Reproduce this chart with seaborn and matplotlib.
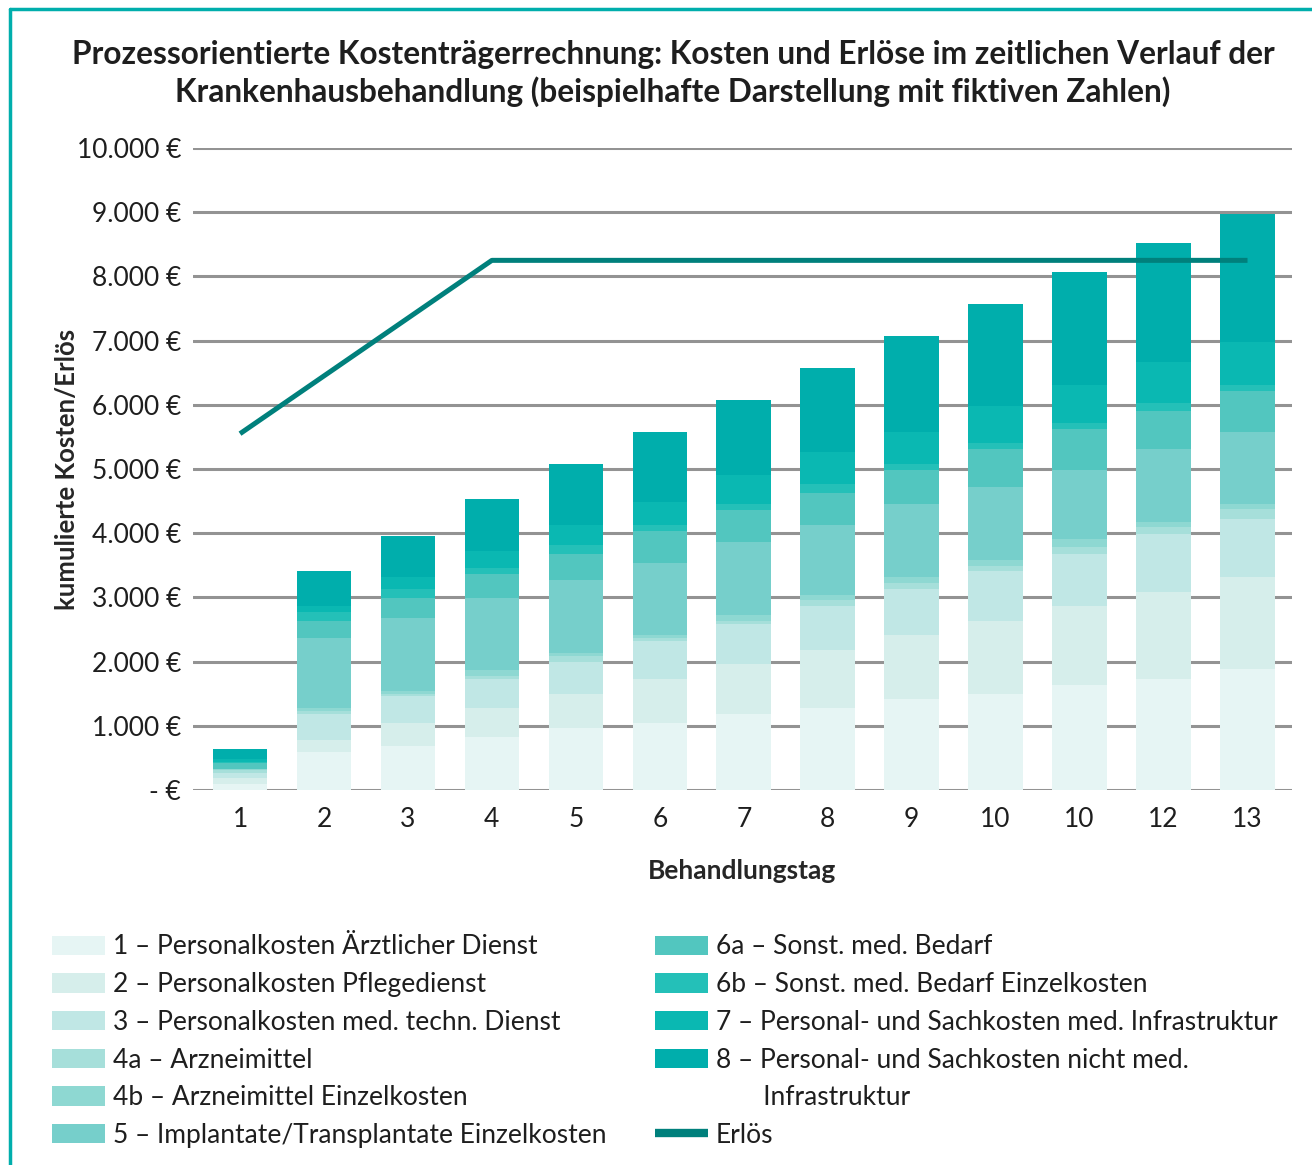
import matplotlib
matplotlib.use("Agg")
import matplotlib.pyplot as plt
from matplotlib.lines import Line2D
from matplotlib.patches import Patch
from matplotlib.ticker import FuncFormatter
import numpy as np
import pandas as pd
import seaborn as sns

# --- data ------------------------------------------------------------
day_labels = ["1", "2", "3", "4", "5", "6", "7", "8", "9", "10", "10", "12", "13"]

seg_names = [
    "1 – Personalkosten Ärztlicher Dienst",
    "2 – Personalkosten Pflegedienst",
    "3 – Personalkosten med. techn. Dienst",
    "4a – Arzneimittel",
    "4b – Arzneimittel Einzelkosten",
    "5 – Implantate/Transplantate Einzelkosten",
    "6a – Sonst. med. Bedarf",
    "6b – Sonst. med. Bedarf Einzelkosten",
    "7 – Personal- und Sachkosten med. Infrastruktur",
    "8 – Personal- und Sachkosten nicht med.",
]
seg_colors = ["#e6f5f4", "#d6eeeb", "#c0e7e5", "#a6dfda", "#8ed8d2",
              "#76cfcb", "#52c6bf", "#24c0b8", "#0ab8b2", "#00aeac"]

aerztl = [90, 590, 690, 830, 970, 1040, 1180, 1280, 1420, 1500, 1640, 1730, 1880]
pflege = [90, 190, 350, 450, 530, 690, 780, 900, 990, 1130, 1230, 1360, 1440]
medtech = [90, 400, 420, 450, 490, 590, 630, 690, 720, 780, 810, 900, 900]
arznei_4a = [40, 50, 40, 50, 100, 50, 40, 90, 90, 80, 100, 100, 150]
arznei_4b = [20, 50, 40, 90, 40, 40, 100, 80, 100, 90, 130, 90, 90]
implantate = [0, 1090, 1140, 1120, 1140, 1130, 1140, 1090, 1130, 1140, 1080, 1130, 1120]
bedarf_6a = [90, 260, 310, 370, 410, 490, 490, 500, 530, 590, 640, 600, 640]
bedarf_6b = [20, 140, 140, 100, 140, 100, 100, 140, 100, 90, 90, 120, 90]
infra_med = [50, 100, 190, 260, 310, 360, 450, 490, 500, 580, 590, 640, 670]
infra_nicht = [150, 540, 640, 810, 950, 1090, 1160, 1310, 1490, 1590, 1760, 1850, 1990]

erloes = [5550, 6450, 7350, 8250, 8250, 8250, 8250, 8250, 8250, 8250, 8250, 8250, 8250]

segments = [aerztl, pflege, medtech, arznei_4a, arznei_4b, implantate,
            bedarf_6a, bedarf_6b, infra_med, infra_nicht]

LINE_COLOR = "#00807c"
GRID_COLOR = "#939393"
TEXT_COLOR = "#1e1e1e"
FS = 19

sns.set_theme(style="white")
plt.rcParams["font.family"] = ["Lato", "DejaVu Sans"]
plt.rcParams["text.color"] = TEXT_COLOR

fig = plt.figure(figsize=(13.12, 11.65), dpi=100)
ax = fig.add_axes([193 / 1312, 1 - 790 / 1165, (1292 - 193) / 1312, (790 - 148) / 1165])

pos = np.arange(len(day_labels))
bottom = np.zeros(len(pos))
for vals, col in zip(segments, seg_colors):
    df = pd.DataFrame({"tag": pos, "kosten": vals})
    sns.barplot(data=df, x="tag", y="kosten", color=col, width=0.65,
                bottom=bottom.copy(), errorbar=None, saturation=1,
                linewidth=0, ax=ax, zorder=2)
    bottom += np.array(vals)

sns.lineplot(x=pos, y=erloes, color=LINE_COLOR, linewidth=3.6, ax=ax,
             zorder=5, solid_capstyle="butt")

ax.set_xlim(-0.56, 12.53)
ax.set_ylim(0, 10000)
ax.set_yticks(np.arange(0, 10001, 1000))
ax.yaxis.set_major_formatter(FuncFormatter(
    lambda v, _: "- €" if v == 0 else f"{int(v):,} €".replace(",", ".")))
ax.set_xticks(pos)
ax.set_xticklabels(day_labels)
ax.tick_params(axis="both", length=0, labelsize=FS, colors=TEXT_COLOR)
ax.tick_params(axis="y", pad=8.5)
ax.tick_params(axis="x", pad=12)
ax.yaxis.grid(True, color=GRID_COLOR, linewidth=2.2, zorder=0)
ax.xaxis.grid(False)
ax.set_axisbelow(True)
for s in ax.spines.values():
    s.set_visible(False)

ax.set_xlabel("Behandlungstag", fontsize=FS, fontweight="bold", labelpad=20)
ax.set_ylabel("kumulierte Kosten/Erlös", fontsize=18.5, fontweight="bold")
ax.yaxis.set_label_coords(-0.104, 0.5)

fig.text(0.513, 1 - 73.5 / 1165,
         "Prozessorientierte Kostenträgerrechnung: Kosten und Erlöse im zeitlichen Verlauf der\n"
         "Krankenhausbehandlung (beispielhafte Darstellung mit fiktiven Zahlen)",
         ha="center", va="center", fontsize=22.8, fontweight="bold",
         linespacing=1.27, color=TEXT_COLOR)

# legend: two columns, the blank row carries the wrapped label of item 8
handles = [Patch(facecolor=c, edgecolor="none") for c in seg_colors]
labels = list(seg_names)
handles.insert(10, Patch(facecolor="none", edgecolor="none"))
labels.insert(10, "       Infrastruktur")
handles.append(Line2D([0], [0], color=LINE_COLOR, linewidth=6, solid_capstyle="butt"))
labels.append("Erlös")
fig.legend(handles, labels, ncol=2, loc="upper left",
           bbox_to_anchor=(52 / 1312, 1 - 934.5 / 1165), frameon=False,
           fontsize=FS, handlelength=2.0, handleheight=0.76,
           handletextpad=0.3, labelspacing=0.48, columnspacing=1.85,
           borderpad=0, borderaxespad=0)

# teal frame on left and top edge
fig.add_artist(Line2D([10 / 1312, 10 / 1312], [0, 1 - 9 / 1165],
                      color="#00aeac", linewidth=2.5, transform=fig.transFigure))
fig.add_artist(Line2D([10 / 1312, 1], [1 - 9 / 1165, 1 - 9 / 1165],
                      color="#00aeac", linewidth=2.5, transform=fig.transFigure))

fig.savefig("out.png", dpi=100)
plt.close(fig)
